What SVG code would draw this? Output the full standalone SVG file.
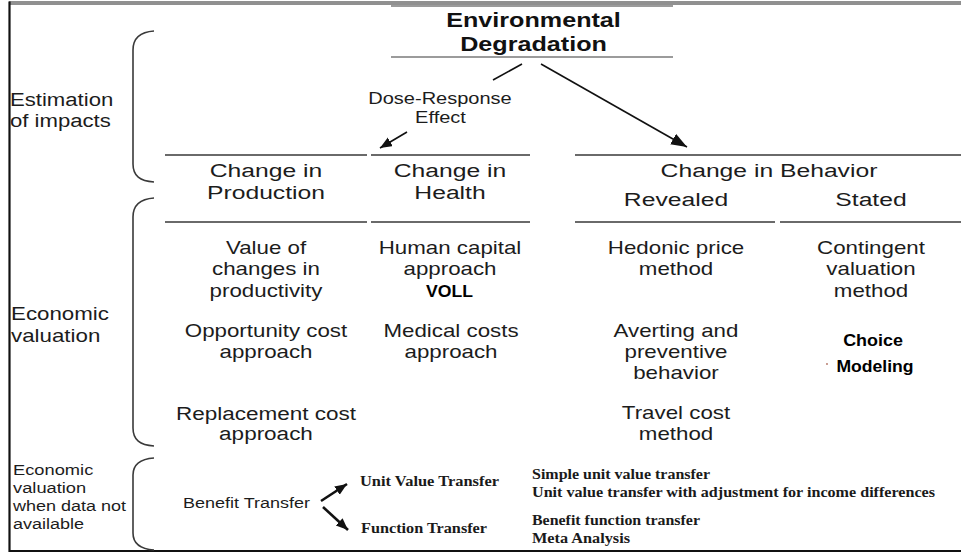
<svg xmlns="http://www.w3.org/2000/svg" width="961" height="554" viewBox="0 0 961 554">
<defs>
<style>
.s{font-family:"Liberation Sans",Arial,sans-serif;fill:#1c1c1c;}
.b18{font-size:18px;text-anchor:middle;}
.h{font-size:19px;text-anchor:middle;}
.t{font-size:19.5px;font-weight:bold;text-anchor:middle;fill:#111;}
.bb{font-size:16px;font-weight:bold;text-anchor:middle;fill:#000;}
.l18{font-size:18px;}
.l15{font-size:15px;}
.sf{font-family:"Liberation Serif","Times New Roman",serif;font-size:14px;font-weight:bold;fill:#1a1a1a;}
.rule{stroke:#6a6a6a;stroke-width:2;fill:none;}
.thin{stroke:#7a7a7a;stroke-width:1.5;fill:none;}
.brace{stroke:#3a3a3a;stroke-width:1.6;fill:none;}
.conn{stroke:#111;stroke-width:1.6;fill:none;}
.conn2{stroke:#111;stroke-width:2.6;fill:none;}
</style>
<marker id="ah" markerUnits="userSpaceOnUse" markerWidth="18" markerHeight="14" refX="16" refY="6" orient="auto">
<path d="M0,0 L16,6 L0,12 Z" fill="#111"/>
</marker>
<marker id="ahs" markerUnits="userSpaceOnUse" markerWidth="14" markerHeight="12" refX="12" refY="5" orient="auto">
<path d="M0,0 L12,5 L0,10 Z" fill="#111"/>
</marker>
</defs>
<rect width="961" height="554" fill="#fff"/>

<!-- frame -->
<g id="frame">
<line x1="9" y1="2" x2="961" y2="2" stroke="#222" stroke-width="1.2"/>
<line x1="9" y1="4" x2="961" y2="4" stroke="#222" stroke-width="1.2"/>
<line x1="9" y1="551" x2="961" y2="551" stroke="#111" stroke-width="2.2"/>
<line x1="9.5" y1="1.5" x2="9.5" y2="552" stroke="#111" stroke-width="2.2"/>
</g>

<!-- braces -->
<g id="braces">
<path class="brace" d="M154,31 C140,32 133,38 133,50 L133,164 C133,176 140,181 154,182"/>
<path class="brace" d="M154,198 C140,199 133,205 133,217 L133,428 C133,440 140,445 154,446"/>
<path class="brace" d="M154,458 C140,459 133,465 133,475 L133,533 C133,544 140,549 154,550"/>
</g>

<!-- rules -->
<g id="rules">
<line class="thin" x1="391" y1="6" x2="673" y2="6"/>
<line class="thin" x1="391" y1="57" x2="673" y2="57"/>
<line class="rule" x1="165" y1="155" x2="367" y2="155"/>
<line class="rule" x1="371" y1="155" x2="530" y2="155"/>
<line class="rule" x1="575" y1="155" x2="961" y2="155"/>
<line class="rule" x1="165" y1="222" x2="367" y2="222"/>
<line class="rule" x1="371" y1="222" x2="530" y2="222"/>
<line class="rule" x1="575" y1="222" x2="775" y2="222"/>
<line class="rule" x1="780" y1="222" x2="961" y2="222"/>
</g>

<g id="env-degradation">
<text class="s t" transform="translate(533.5,27) scale(1.29,1)">Environmental</text>
<text class="s t" transform="translate(533.5,51) scale(1.29,1)">Degradation</text>
</g>

<g id="label-estimation">
<text class="s l18" transform="translate(10,106) scale(1.23,1)">Estimation</text>
<text class="s l18" transform="translate(10,127) scale(1.23,1)">of impacts</text>
</g>

<g id="label-economic">
<text class="s l18" transform="translate(11,320) scale(1.24,1)">Economic</text>
<text class="s l18" transform="translate(11,342) scale(1.24,1)">valuation</text>
</g>

<g id="label-nodata">
<text class="s l15" transform="translate(13,475) scale(1.22,1)">Economic</text>
<text class="s l15" transform="translate(13,493) scale(1.22,1)">valuation</text>
<text class="s l15" transform="translate(13,511) scale(1.2,1)">when data not</text>
<text class="s l15" transform="translate(13,529) scale(1.2,1)">available</text>
</g>

<g id="dose-response">
<text class="s b18" style="font-size:16px" transform="translate(440,104) scale(1.25,1)">Dose-Response</text>
<text class="s b18" style="font-size:16px" transform="translate(440.5,123) scale(1.25,1)">Effect</text>
</g>

<g id="change-production">
<text class="s h" transform="translate(266,177) scale(1.3,1)">Change in</text>
<text class="s h" transform="translate(266,199) scale(1.3,1)">Production</text>
</g>
<g id="change-health">
<text class="s h" transform="translate(450,177) scale(1.3,1)">Change in</text>
<text class="s h" transform="translate(450,199) scale(1.3,1)">Health</text>
</g>
<g id="change-behavior">
<text class="s h" transform="translate(769,177) scale(1.3,1)">Change in Behavior</text>
</g>
<g id="revealed">
<text class="s h" transform="translate(676,206) scale(1.3,1)">Revealed</text>
</g>
<g id="stated">
<text class="s h" transform="translate(871,206) scale(1.3,1)">Stated</text>
</g>

<g id="production-methods">
<text class="s b18" transform="translate(266,254) scale(1.24,1)">Value of</text>
<text class="s b18" transform="translate(266,275) scale(1.24,1)">changes in</text>
<text class="s b18" transform="translate(266,297) scale(1.24,1)">productivity</text>
<text class="s b18" transform="translate(266,337) scale(1.24,1)">Opportunity cost</text>
<text class="s b18" transform="translate(266,358) scale(1.24,1)">approach</text>
<text class="s b18" transform="translate(266,420) scale(1.25,1)">Replacement cost</text>
<text class="s b18" transform="translate(266,440) scale(1.25,1)">approach</text>
</g>

<g id="health-methods">
<text class="s b18" transform="translate(450,254) scale(1.24,1)">Human capital</text>
<text class="s b18" transform="translate(450,275) scale(1.24,1)">approach</text>
<text class="s bb" transform="translate(449.5,297) scale(1.1,1)">VOLL</text>
<text class="s b18" transform="translate(451,337) scale(1.24,1)">Medical costs</text>
<text class="s b18" transform="translate(451,358) scale(1.24,1)">approach</text>
</g>

<g id="revealed-methods">
<text class="s b18" transform="translate(676,254) scale(1.24,1)">Hedonic price</text>
<text class="s b18" transform="translate(676,275) scale(1.24,1)">method</text>
<text class="s b18" transform="translate(676,337) scale(1.24,1)">Averting and</text>
<text class="s b18" transform="translate(676,358) scale(1.24,1)">preventive</text>
<text class="s b18" transform="translate(676,379) scale(1.24,1)">behavior</text>
<text class="s b18" transform="translate(676,419) scale(1.24,1)">Travel cost</text>
<text class="s b18" transform="translate(676,440) scale(1.24,1)">method</text>
</g>

<g id="stated-methods">
<text class="s b18" transform="translate(871,254) scale(1.24,1)">Contingent</text>
<text class="s b18" transform="translate(871,275) scale(1.24,1)">valuation</text>
<text class="s b18" transform="translate(871,297) scale(1.24,1)">method</text>
<text class="s bb" transform="translate(873,346) scale(1.12,1)">Choice</text>
<circle cx="827" cy="364" r="0.9" fill="#b07060"/>
<text class="s bb" transform="translate(875,372) scale(1.1,1)">Modeling</text>
</g>

<g id="benefit-transfer">
<text class="s l15" transform="translate(183,508) scale(1.2,1)">Benefit Transfer</text>
</g>
<g id="unit-value-transfer">
<text class="sf" x="360" y="486" textLength="139" lengthAdjust="spacingAndGlyphs">Unit Value Transfer</text>
</g>
<g id="function-transfer">
<text class="sf" x="361" y="533" textLength="126" lengthAdjust="spacingAndGlyphs">Function Transfer</text>
</g>
<g id="unit-value-types">
<text class="sf" x="532" y="479" textLength="178" lengthAdjust="spacingAndGlyphs">Simple unit value transfer</text>
<text class="sf" x="532" y="497" textLength="403" lengthAdjust="spacingAndGlyphs">Unit value transfer with adjustment for income differences</text>
</g>
<g id="function-types">
<text class="sf" x="532" y="525" textLength="168" lengthAdjust="spacingAndGlyphs">Benefit function transfer</text>
<text class="sf" x="532" y="543" textLength="98" lengthAdjust="spacingAndGlyphs">Meta Analysis</text>
</g>

<g id="connectors">
<line class="conn" x1="522" y1="64" x2="493" y2="80"/>
<line class="conn" x1="407" y1="132" x2="380" y2="148" marker-end="url(#ahs)"/>
<line class="conn" x1="541" y1="64" x2="687" y2="147" marker-end="url(#ah)"/>
<line class="conn2" x1="321" y1="501" x2="347" y2="484" marker-end="url(#ahs)"/>
<line class="conn2" x1="323" y1="507" x2="348" y2="530" marker-end="url(#ahs)"/>
</g>
</svg>
